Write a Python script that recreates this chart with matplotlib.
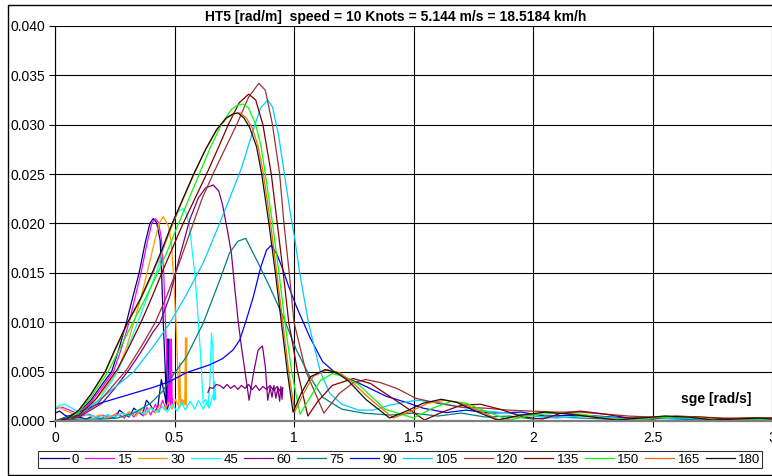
import numpy as np
import matplotlib
matplotlib.use("Agg")
import matplotlib.pyplot as plt
from matplotlib.patches import Rectangle

# headings [deg] shown in the legend
headings = ["0", "15", "30", "45", "60", "75", "90", "105", "120", "135", "150", "165", "180"]

# (sge [rad/s], HT5 [rad/m]); following-sea headings fold back in x
h0 = [(0, 0), (0.05, 0.0003), (0.1, 0.0009), (0.15, 0.0021), (0.2, 0.0038), (0.237, 0.005), (0.27, 0.0075),
      (0.298, 0.0099), (0.325, 0.0125), (0.352, 0.015), (0.377, 0.018), (0.397, 0.020), (0.411, 0.0205),
      (0.425, 0.0201), (0.44, 0.0183), (0.446, 0.015), (0.453, 0.010), (0.46, 0.006), (0.466, 0.0018),
      (0.470, 0.0083), (0.473, 0.0016), (0.476, 0.0083), (0.477, 0.0018),
      (0.470, 0.0012), (0.46, 0.0025), (0.445, 0.0042), (0.43, 0.0014), (0.415, 0.0009), (0.40, 0.0016),
      (0.383, 0.0021), (0.365, 0.0006), (0.35, 0.0009), (0.33, 0.0013), (0.31, 0.0004), (0.29, 0.0007),
      (0.27, 0.0011), (0.25, 0.0003), (0.22, 0.0006), (0.19, 0.0002), (0.16, 0.0005), (0.13, 0.0002),
      (0.10, 0.0004), (0.07, 0.0003), (0.04, 0.0006), (0.02, 0.0010), (0.0, 0.0008)]
h15 = [(0, 0), (0.05, 0.0003), (0.1, 0.0008), (0.15, 0.0019), (0.2, 0.0035), (0.245, 0.005), (0.28, 0.0075),
       (0.31, 0.010), (0.335, 0.0125), (0.36, 0.015), (0.385, 0.018), (0.405, 0.020), (0.42, 0.0205),
       (0.433, 0.0201), (0.445, 0.0185), (0.455, 0.015), (0.462, 0.010), (0.47, 0.005), (0.477, 0.0016),
       (0.481, 0.0083), (0.484, 0.0015), (0.487, 0.0083), (0.490, 0.0017), (0.493, 0.0022),
       (0.48, 0.0024), (0.465, 0.0012), (0.45, 0.0021), (0.435, 0.0009), (0.42, 0.0017), (0.40, 0.0006),
       (0.385, 0.0014), (0.37, 0.0005), (0.35, 0.0011), (0.33, 0.0004), (0.31, 0.0009), (0.29, 0.0003),
       (0.26, 0.0008), (0.23, 0.0003), (0.2, 0.0006), (0.17, 0.0004), (0.14, 0.0007), (0.11, 0.0005),
       (0.08, 0.0009), (0.05, 0.0012), (0.03, 0.0014), (0.01, 0.0013), (0, 0.0012)]
h30 = [(0, 0), (0.05, 0.0002), (0.1, 0.0007), (0.15, 0.0016), (0.2, 0.003), (0.26, 0.005), (0.30, 0.0075),
       (0.33, 0.010), (0.36, 0.0125), (0.385, 0.015), (0.41, 0.0175), (0.435, 0.020), (0.453, 0.0207),
       (0.475, 0.0197), (0.487, 0.018), (0.495, 0.015), (0.506, 0.010), (0.514, 0.005), (0.519, 0.0017),
       (0.522, 0.0059), (0.526, 0.0016), (0.532, 0.0022), (0.538, 0.0016), (0.543, 0.0018), (0.546, 0.0084),
       (0.549, 0.0016), (0.551, 0.0084),
       (0.548, 0.0017), (0.535, 0.0021), (0.52, 0.0013), (0.505, 0.0022), (0.49, 0.0012), (0.475, 0.0019),
       (0.46, 0.0011), (0.44, 0.0017), (0.42, 0.0008), (0.40, 0.0014), (0.38, 0.0006), (0.36, 0.0012),
       (0.34, 0.0005), (0.31, 0.0009), (0.28, 0.0004), (0.25, 0.0007), (0.22, 0.0003), (0.19, 0.0006),
       (0.16, 0.0004), (0.13, 0.0007), (0.10, 0.0005), (0.07, 0.0008), (0.04, 0.0011), (0.02, 0.0014),
       (0, 0.0013)]
h45 = [(0, 0), (0.05, 0.0002), (0.1, 0.0006), (0.18, 0.002), (0.25, 0.0045), (0.29, 0.0065), (0.33, 0.009),
       (0.37, 0.0115), (0.40, 0.0135), (0.43, 0.0155), (0.46, 0.018), (0.49, 0.020), (0.515, 0.0212),
       (0.536, 0.0215), (0.55, 0.021), (0.564, 0.0195), (0.575, 0.017), (0.585, 0.0149), (0.593, 0.0125),
       (0.6, 0.010), (0.607, 0.0075), (0.613, 0.005), (0.62, 0.0018), (0.63, 0.0022), (0.64, 0.0015),
       (0.648, 0.004), (0.655, 0.0089), (0.66, 0.0075), (0.665, 0.0021), (0.668, 0.004), (0.672, 0.0022),
       (0.66, 0.0026), (0.645, 0.0013), (0.635, 0.0019), (0.62, 0.0012), (0.60, 0.0021), (0.585, 0.0012),
       (0.565, 0.0020), (0.545, 0.0011), (0.53, 0.0019), (0.51, 0.0010), (0.49, 0.0017), (0.47, 0.0009),
       (0.45, 0.0015), (0.43, 0.0009), (0.40, 0.0013), (0.37, 0.0007), (0.34, 0.0011), (0.31, 0.0005),
       (0.28, 0.0008), (0.25, 0.0004), (0.22, 0.0006), (0.19, 0.0003), (0.16, 0.0005), (0.13, 0.0006),
       (0.10, 0.0009), (0.07, 0.0013), (0.04, 0.0017), (0.02, 0.0016), (0, 0.0013)]
h60 = [(0, 0), (0.05, 0.0001), (0.1, 0.0004), (0.197, 0.0018), (0.25, 0.0033), (0.31, 0.0052), (0.36, 0.007),
       (0.41, 0.009), (0.44, 0.010), (0.48, 0.0126), (0.52, 0.0165), (0.564, 0.0204), (0.6, 0.0226),
       (0.63, 0.0236), (0.662, 0.0239), (0.685, 0.0233), (0.70, 0.022), (0.72, 0.0195), (0.738, 0.017),
       (0.752, 0.0135), (0.766, 0.0102), (0.78, 0.0075), (0.794, 0.0052), (0.812, 0.0021), (0.83, 0.0048),
       (0.85, 0.0072), (0.868, 0.0076), (0.88, 0.0055), (0.89, 0.0021), (0.9, 0.0034), (0.908, 0.0024),
       (0.916, 0.0036), (0.924, 0.0023), (0.932, 0.0033), (0.94, 0.002), (0.945, 0.0035), (0.95, 0.0022),
       (0.953, 0.0034),
       (0.945, 0.0029), (0.93, 0.0035), (0.915, 0.0031), (0.9, 0.0036), (0.885, 0.0032), (0.87, 0.0035),
       (0.855, 0.0031), (0.84, 0.0036), (0.825, 0.0032), (0.81, 0.0037), (0.795, 0.0033), (0.78, 0.0036),
       (0.765, 0.0032), (0.75, 0.0036), (0.735, 0.0033), (0.72, 0.0037), (0.705, 0.0033), (0.69, 0.0036),
       (0.675, 0.0037), (0.66, 0.0033), (0.648, 0.0034), (0.64, 0.0029)]
h75 = [(0, 0), (0.1, 0.0002), (0.2, 0.0002), (0.26, 0.0003), (0.33, 0.0008), (0.40, 0.0018), (0.45, 0.003),
       (0.495, 0.0047), (0.55, 0.0065), (0.62, 0.0099), (0.69, 0.0143), (0.73, 0.017), (0.765, 0.0182),
       (0.798, 0.0185), (0.85, 0.016), (0.898, 0.0136), (0.954, 0.0106), (1.01, 0.0072), (1.066, 0.0045),
       (1.12, 0.0024), (1.2, 0.0012), (1.29, 0.0008), (1.4, 0.0006), (1.5, 0.0008), (1.6, 0.0005),
       (1.7, 0.0008), (1.8, 0.0004), (1.9, 0.0005), (2.0, 0.0002), (2.1, 0.0004), (2.3, 0.0002),
       (2.5, 0.0003), (2.7, 0.0001), (3.0, 0.0001)]
h90 = [(0, 0), (0.1, 0.0009), (0.188, 0.0018), (0.327, 0.0028), (0.41, 0.0034), (0.48, 0.004), (0.55, 0.0049),
       (0.648, 0.0057), (0.70, 0.0063), (0.745, 0.0072), (0.773, 0.0082), (0.80, 0.0102), (0.83, 0.0126),
       (0.86, 0.0155), (0.885, 0.0173), (0.905, 0.0178), (0.93, 0.0168), (0.954, 0.0153), (0.975, 0.0138),
       (1.01, 0.0116), (1.066, 0.0085), (1.12, 0.006), (1.177, 0.0048), (1.275, 0.0038), (1.386, 0.0025),
       (1.48, 0.0018), (1.54, 0.0013), (1.637, 0.00085), (1.72, 0.0011), (1.82, 0.0008), (1.95, 0.0009),
       (2.05, 0.0005), (2.2, 0.0006), (2.4, 0.0003), (2.6, 0.0003), (2.8, 0.0002), (3.0, 0.0002)]
h105 = [(0, 0), (0.1, 0.0007), (0.2, 0.0024), (0.27, 0.0038), (0.33, 0.005), (0.41, 0.0075), (0.48, 0.0099),
        (0.55, 0.0128), (0.62, 0.016), (0.68, 0.0195), (0.73, 0.0225), (0.78, 0.0256), (0.83, 0.0295),
        (0.86, 0.0317), (0.89, 0.0325), (0.91, 0.0318), (0.935, 0.029), (0.96, 0.025), (0.985, 0.021),
        (1.003, 0.0185), (1.024, 0.015), (1.06, 0.010), (1.11, 0.005), (1.15, 0.0028), (1.2, 0.0017),
        (1.27, 0.0011), (1.33, 0.0011), (1.4, 0.0016), (1.51, 0.0021), (1.6, 0.0019), (1.7, 0.0014),
        (1.8, 0.001), (1.9, 0.0008), (2.0, 0.0005), (2.1, 0.0003), (2.2, 0.0005), (2.3, 0.0004),
        (2.4, 0.0002), (2.5, 0.0002), (2.6, 0.0003), (2.8, 0.0002), (3.0, 0.0002)]
h120 = [(0, 0), (0.1, 0.0005), (0.18, 0.0018), (0.3, 0.0052), (0.36, 0.0075), (0.42, 0.010), (0.47, 0.0128),
        (0.52, 0.016), (0.571, 0.0195), (0.615, 0.0225), (0.661, 0.025), (0.71, 0.0275), (0.76, 0.030),
        (0.81, 0.0328), (0.853, 0.0342), (0.88, 0.0335), (0.91, 0.030), (0.94, 0.025), (0.958, 0.020),
        (0.98, 0.015), (1.0, 0.010), (1.05, 0.005), (1.125, 0.0008), (1.19, 0.0028), (1.25, 0.0039),
        (1.30, 0.0042), (1.36, 0.0039), (1.43, 0.0033), (1.51, 0.0023), (1.6, 0.0018), (1.7, 0.0014),
        (1.8, 0.0013), (1.9, 0.0011), (2.0, 0.0010), (2.1, 0.0009), (2.2, 0.0009), (2.3, 0.0007),
        (2.4, 0.0005), (2.5, 0.0004), (2.6, 0.0004), (2.7, 0.0004), (2.8, 0.0003), (2.9, 0.0003), (3.0, 0.0003)]
h135 = [(0, 0), (0.1, 0.0006), (0.17, 0.0022), (0.26, 0.0052), (0.31, 0.0075), (0.36, 0.010), (0.41, 0.0128),
        (0.452, 0.0153), (0.536, 0.020), (0.634, 0.025), (0.68, 0.0275), (0.725, 0.030), (0.77, 0.0322),
        (0.81, 0.0331), (0.84, 0.0325), (0.87, 0.030), (0.905, 0.025), (0.93, 0.020), (0.955, 0.015),
        (0.978, 0.010), (1.015, 0.005), (1.058, 0.0005), (1.1, 0.002), (1.16, 0.0036), (1.247, 0.0043),
        (1.32, 0.0038), (1.4, 0.0025), (1.48, 0.0012), (1.546, 0.0001), (1.62, 0.0009), (1.7, 0.0016),
        (1.78, 0.0017), (1.86, 0.0012), (1.96, 0.0004), (2.04, 0.0002), (2.12, 0.0008), (2.2, 0.001),
        (2.3, 0.0007), (2.4, 0.0003), (2.5, 0.0002), (2.6, 0.0005), (2.7, 0.0004), (2.8, 0.0002),
        (2.9, 0.0003), (3.0, 0.0003)]
h150 = [(0, 0), (0.05, 0.0002), (0.1, 0.0009), (0.15, 0.0024), (0.22, 0.0049), (0.26, 0.0068), (0.32, 0.0097),
        (0.38, 0.0125), (0.43, 0.015), (0.47, 0.0172), (0.51, 0.0196), (0.555, 0.0222), (0.60, 0.0248),
        (0.65, 0.0277), (0.70, 0.0302), (0.74, 0.0316), (0.765, 0.032), (0.787, 0.0321), (0.81, 0.0317),
        (0.84, 0.030), (0.862, 0.0278), (0.88, 0.025), (0.91, 0.020), (0.937, 0.015), (0.962, 0.010),
        (0.99, 0.005), (1.025, 0.0007), (1.07, 0.0025), (1.11, 0.0041), (1.16, 0.0048), (1.21, 0.0045),
        (1.27, 0.0037), (1.38, 0.0012), (1.5, 0.0003), (1.58, 0.0013), (1.66, 0.0020), (1.72, 0.0018),
        (1.79, 0.0011), (1.9, 0.0001), (2.0, 0.0006), (2.1, 0.0008), (2.2, 0.0007), (2.3, 0.0003),
        (2.4, 0.0001), (2.5, 0.0003), (2.6, 0.0004), (2.7, 0.0003), (2.8, 0.0001), (2.9, 0.0002), (3.0, 0.0002)]
h165 = [(0, 0), (0.05, 0.0002), (0.1, 0.0011), (0.15, 0.0027), (0.21, 0.0049), (0.25, 0.0071), (0.30, 0.0097),
        (0.36, 0.0124), (0.41, 0.015), (0.45, 0.0173), (0.49, 0.0198), (0.535, 0.0224), (0.58, 0.0249),
        (0.63, 0.0275), (0.68, 0.0296), (0.72, 0.0307), (0.75, 0.0311), (0.775, 0.0312), (0.80, 0.0307),
        (0.825, 0.0297), (0.85, 0.0278), (0.872, 0.025), (0.902, 0.020), (0.928, 0.015), (0.953, 0.010),
        (0.978, 0.005), (1.003, 0.0009), (1.04, 0.0028), (1.08, 0.0045), (1.14, 0.0052), (1.19, 0.0049),
        (1.24, 0.0040), (1.32, 0.0022), (1.415, 0.0003), (1.49, 0.0010), (1.56, 0.0018), (1.63, 0.0021),
        (1.70, 0.0018), (1.77, 0.0011), (1.86, 0.0001), (1.96, 0.0006), (2.06, 0.0009), (2.16, 0.0007),
        (2.26, 0.0004), (2.36, 0.0001), (2.46, 0.0003), (2.56, 0.0005), (2.66, 0.0004), (2.76, 0.0001),
        (2.86, 0.0002), (2.96, 0.0003), (3.0, 0.0002)]
h180 = [(0, 0), (0.05, 0.0002), (0.1, 0.0011), (0.15, 0.0027), (0.21, 0.005), (0.25, 0.0072), (0.30, 0.0098),
        (0.36, 0.0125), (0.41, 0.0152), (0.45, 0.0175), (0.49, 0.020), (0.535, 0.0225), (0.58, 0.025),
        (0.63, 0.0275), (0.676, 0.0295), (0.717, 0.0307), (0.745, 0.0311), (0.765, 0.0312), (0.79, 0.0307),
        (0.815, 0.0297), (0.843, 0.0278), (0.865, 0.025), (0.895, 0.020), (0.922, 0.015), (0.947, 0.010),
        (0.972, 0.005), (0.996, 0.0009), (1.03, 0.0028), (1.07, 0.0045), (1.13, 0.0052), (1.18, 0.0049),
        (1.23, 0.0040), (1.30, 0.0022), (1.40, 0.0003), (1.47, 0.0010), (1.54, 0.0018), (1.616, 0.0022),
        (1.68, 0.0019), (1.75, 0.0011), (1.85, 0.0001), (1.95, 0.0006), (2.05, 0.0009), (2.15, 0.0007),
        (2.25, 0.0004), (2.35, 0.0001), (2.45, 0.0003), (2.55, 0.0005), (2.65, 0.0004), (2.75, 0.0001),
        (2.85, 0.0002), (2.95, 0.0003), (3.0, 0.0002)]

series = [h0, h15, h30, h45, h60, h75, h90, h105, h120, h135, h150, h165, h180]
colors = ['#000080', '#FF00FF', '#FF9900', '#00FFFF', '#800080', '#008080', '#0000FF',
          '#00CCFF', '#993333', '#800000', '#00FF00', '#FF6600', '#111111']

plt.rcParams['font.family'] = ['Liberation Sans', 'DejaVu Sans']

W, H = 772, 476
fig = plt.figure(figsize=(W / 100, H / 100), dpi=100)
ax = fig.add_axes([55 / W, (H - 421) / H, (W - 55) / W, 395 / H])

for pts, c, lab in zip(series, colors, headings):
    p = np.array(pts)
    ax.plot(p[:, 0], p[:, 1], color=c, lw=0.9, label=lab)

ax.set_xlim(0, 3)
ax.set_ylim(0, 0.04)
ax.set_xticks(np.arange(0, 3.01, 0.5))
ax.set_xticklabels(["0", "0.5", "1", "1.5", "2", "2.5", "3"])
ax.set_yticks(np.arange(0, 0.0401, 0.005))
ax.set_yticklabels([f"{v:.3f}" for v in np.arange(0, 0.0401, 0.005)])
ax.tick_params(labelsize=10, length=4, width=0.8, color='black', pad=3)
ax.grid(True, color='black', lw=0.8)
ax.set_axisbelow(True)
for s in ['top', 'right']:
    ax.spines[s].set_visible(False)
ax.spines['left'].set_linewidth(0.8)
ax.spines['bottom'].set_color('#808080')
ax.spines['bottom'].set_linewidth(1.6)

fig.text(396 / W, 1 - 17 / H, "HT5 [rad/m]  speed = 10 Knots = 5.144 m/s = 18.5184 km/h",
         ha='center', va='center', fontsize=10, fontweight='bold')
ax.text(716 / W, 1 - 399 / H, "sge [rad/s]", transform=fig.transFigure,
        ha='center', va='center', fontsize=10, fontweight='bold')

leg = fig.legend(loc='center', bbox_to_anchor=(400 / W, 1 - 459.5 / H), ncol=13, fontsize=9.5,
                 frameon=True, fancybox=False, edgecolor='black', handlelength=2.2,
                 handletextpad=0.25, columnspacing=0.45, borderpad=0.15, borderaxespad=0)
leg.get_frame().set_linewidth(0.8)

# outer chart frame
fig.patches.append(Rectangle((7.5 / W, 1.5 / H), 2, (H - 6.5) / H, transform=fig.transFigure,
                             fill=False, edgecolor='black', lw=1.0))

fig.savefig("out.png", dpi=100)
